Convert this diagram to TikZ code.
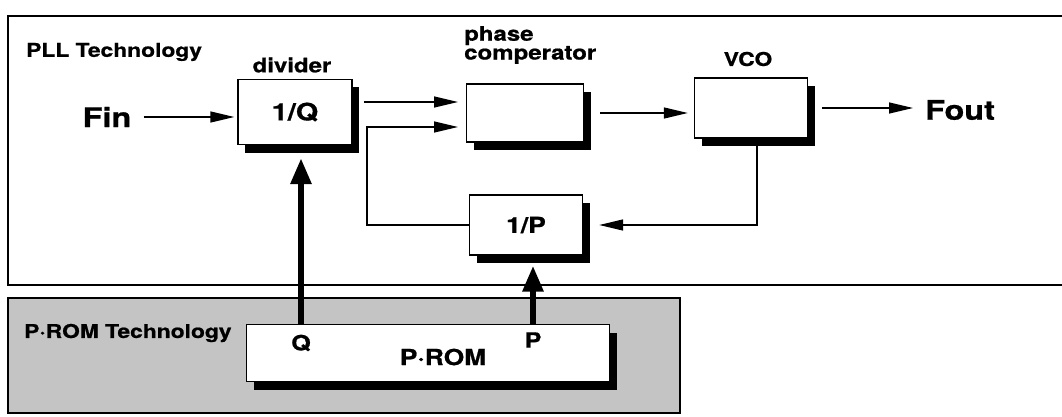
\documentclass[tikz,border=0pt]{standalone}
\usepackage{fontspec}
\setmainfont{TeX Gyre Heros}[FakeStretch=1.2, BoldFeatures={FakeBold=0.8}]
\usetikzlibrary{arrows.meta,shadows}
\definecolor{romgray}{RGB}{196,196,196}

\begin{document}
\begin{tikzpicture}[x=1pt,y=-1pt,
    frame/.style={line width=1.4pt},
    box/.style={draw, line width=1.4pt, fill=white, inner sep=0pt,
        general shadow={fill=black, shadow xshift=7pt, shadow yshift=-8pt}},
    lbl/.style={inner sep=0pt, font=\bfseries\fontsize{#1}{#1}\selectfont},
    arr/.style={line width=1.4pt, -{Triangle[length=24pt,width=11pt]}},
    fat/.style={line width=6pt, -{Triangle[length=26pt,width=20pt]}}]
    \useasboundingbox (0,0) rectangle (1062,417);
    \draw[frame] (8,16) rectangle (1075,285);
    \draw[frame, fill=romgray] (8,298) rectangle (680,413);

    \node[box, minimum width=114pt, minimum height=65pt, lbl=24] (divQ) at (295,112) {1/Q};
    \node[box, minimum width=117pt, minimum height=58pt] (cmp) at (525,113) {};
    \node[box, minimum width=113pt, minimum height=60pt] (vco) at (751,108) {};
    \node[box, minimum width=113pt, minimum height=60pt, lbl=22] (divP) at (526,225) {1/P};
    \node[box, minimum width=363pt, minimum height=57pt] (prom) at (428,353) {};

    \node[lbl=19, anchor=west] (plltxt) at (26,52) {PLL Technology};
    \node[lbl=20] (divtxt) at (292,65) {divider};
    \node[lbl=20, anchor=west, align=left, font=\bfseries\fontsize{20}{16}\selectfont] (cmptxt) at (464,45) {phase\\comperator};
    \node[lbl=19] (vcotxt) at (748,59) {VCO};
    \node[lbl=27] (fin) at (107,117) {Fin};
    \node[lbl=27, anchor=west] (fout) at (925,110) {Fout};
    \node[lbl=19, anchor=west] (romtxt) at (24,333) {P·ROM Technology};
    \node[lbl=22] (romlbl) at (443,357) {P·ROM};
    \node[lbl=21] (q) at (301,343) {Q};
    \node[lbl=21] (p) at (533,340) {P};

    \coordinate (in1) at (466,102);
    \coordinate (in2) at (466,127);
    \coordinate (fb) at (367,127);

    \draw[arr, shorten <=12pt, shorten >=3pt] (fin.east) -- (fin.east -| divQ.west);
    \draw[arr, shorten <=11pt, shorten >=8pt] (divQ.east |- in1) -- (in1);
    \draw[arr, shorten >=8pt] (divP.west) -| (fb) -- (in2);
    \draw[arr, shorten <=16pt, shorten >=6pt] (cmp.east) -- (cmp.east -| vco.west);
    \draw[arr, shorten <=14pt, shorten >=12pt] (vco.east) -- (vco.east -| fout.west);
    \draw[arr, shorten >=16pt] ([xshift=6pt]vco.south) |- (divP.east);
    \draw[fat, shorten >=13pt] (prom.north -| q) -- (divQ.south -| q);
    \draw[fat, shorten >=10pt] (prom.north -| p) -- (divP.south -| p);
\end{tikzpicture}
\end{document}
